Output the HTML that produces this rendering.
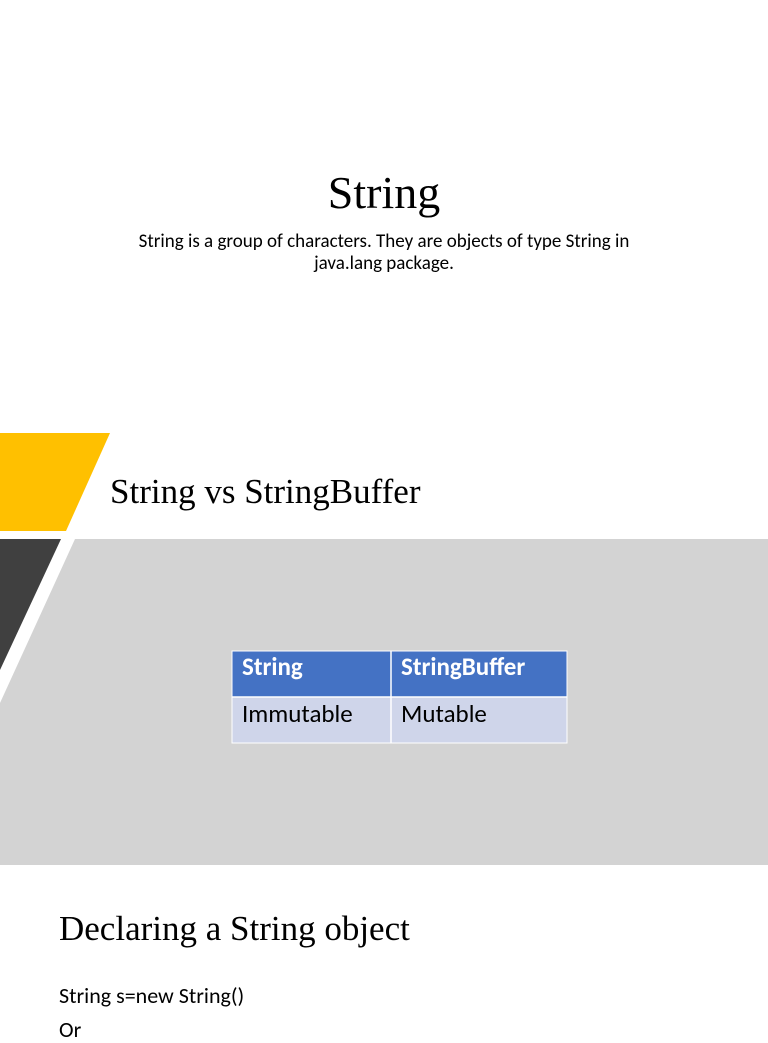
<!DOCTYPE html>
<html><head><style>
body{margin:0;width:768px;height:1024px;position:relative;overflow:hidden;background:#fff;font-family:"Liberation Sans",sans-serif}
.a{position:absolute}
.serif{font-family:"Liberation Serif",serif}
.cal{font-family:"Carlito","Liberation Sans",sans-serif}
</style></head><body>
<div class="a serif" style="left:0;width:768px;top:166px;text-align:center;font-size:46px">String</div>
<div class="a cal" style="left:129px;width:510px;top:231px;text-align:center;font-size:19px;line-height:22px">String is a group of characters. They are objects of type String in java.lang package.</div>
<svg class="a" style="left:0;top:0" width="768" height="1024">
<polygon points="0,433 110,433 66,531 0,531" fill="#FFC000"/>
<polygon points="0,539 61,539 0,670" fill="#404040"/>
<polygon points="75,539 768,539 768,865 0,865 0,703" fill="#D3D3D3"/>
<rect x="232" y="651" width="159" height="46" fill="#4472C4"/>
<rect x="391" y="651" width="176" height="46" fill="#4472C4"/>
<rect x="232" y="697" width="159" height="46" fill="#CFD5EA"/>
<rect x="391" y="697" width="176" height="46" fill="#CFD5EA"/>
<line x1="391" y1="651" x2="391" y2="743" stroke="#fff" stroke-width="1.5"/>
<line x1="232" y1="697" x2="567" y2="697" stroke="#fff" stroke-width="1.5"/>
<rect x="232" y="651" width="335" height="92" fill="none" stroke="#fff" stroke-width="1"/>
</svg>
<div class="a serif" style="left:110px;top:472px;font-size:35px">String vs StringBuffer</div>
<div class="a cal" style="left:242px;top:651px;font-size:25px;color:#fff;font-weight:bold">String</div>
<div class="a cal" style="left:401px;top:651px;font-size:25px;color:#fff;font-weight:bold">StringBuffer</div>
<div class="a cal" style="left:242px;top:698px;font-size:25px">Immutable</div>
<div class="a cal" style="left:401px;top:698px;font-size:25px">Mutable</div>
<div class="a serif" style="left:59px;top:909px;font-size:35px">Declaring a String object</div>
<div class="a cal" style="left:59px;top:982px;font-size:22px">String s=new String()</div>
<div class="a cal" style="left:59px;top:1016px;font-size:22px">Or</div>
</body></html>
